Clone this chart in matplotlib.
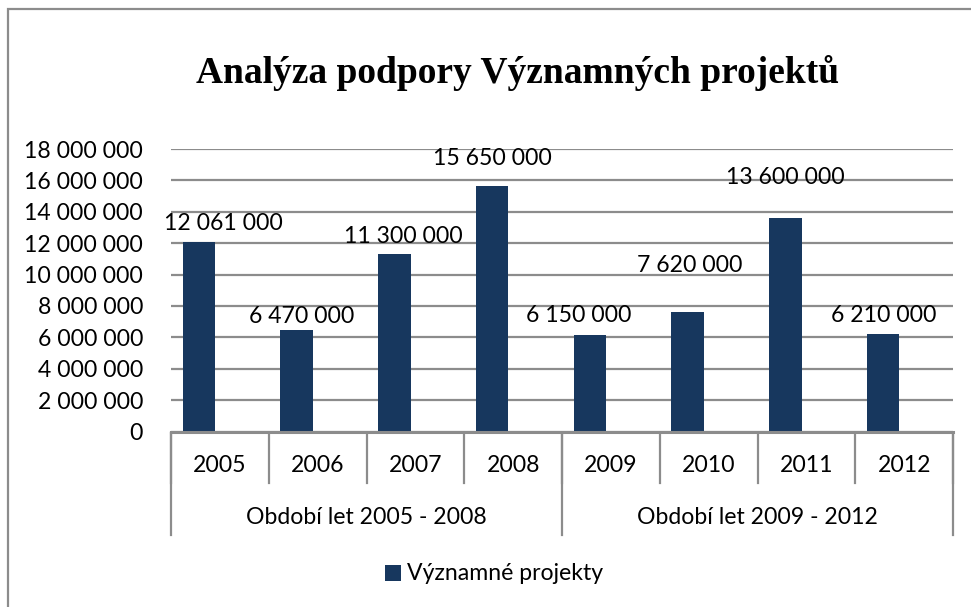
import matplotlib
matplotlib.use("Agg")
import matplotlib.pyplot as plt
from matplotlib.patches import Rectangle
from matplotlib.transforms import blended_transform_factory

years = ["2005", "2006", "2007", "2008", "2009", "2010", "2011", "2012"]
values = [12061000, 6470000, 11300000, 15650000, 6150000, 7620000, 13600000, 6210000]
value_labels = ["12 061 000", "6 470 000", "11 300 000", "15 650 000",
                "6 150 000", "7 620 000", "13 600 000", "6 210 000"]
groups = ["Období let 2005 - 2008", "Období let 2009 - 2012"]
group_sizes = [4, 4]
yticks = [0, 2000000, 4000000, 6000000, 8000000, 10000000, 12000000, 14000000, 16000000, 18000000]
ytick_labels = ["0", "2 000 000", "4 000 000", "6 000 000", "8 000 000", "10 000 000",
                "12 000 000", "14 000 000", "16 000 000", "18 000 000"]
title = "Analýza podpory Významných projektů"
series_name = "Významné projekty"

# style: manual label offsets in pixels (dx, dy upward) as in the reference
label_dx = [24, 5, 8.5, 0, -11, 2, 0, 0]
label_dy = [19, 14, 18, 27, 20, 46, 41, 19]

W, H, DPI = 971, 607, 100
PT = 72.0 / DPI
BAR = "#17375E"
GRID = "#8C8C8C"
FONT = "Lato"
FS = 23 * PT

fig = plt.figure(figsize=(W / DPI, H / DPI), dpi=DPI)
fig.patch.set_facecolor("white")

# outer border (only left/top visible)
fig.add_artist(Rectangle((7.5 / W, -0.05), 1.2, 1 - 9 / H + 0.05, transform=fig.transFigure,
                         fill=False, edgecolor="#8C8C8C", linewidth=1.6))

left, right, top, bottom = 171, 953, 149, 431.6
ax = fig.add_axes([left / W, 1 - bottom / H, (right - left) / W, (bottom - top) / H])
n = len(years)
x = list(range(n))
offset = -0.214
width = 0.333
xb = [i + offset for i in x]
ax.bar(xb, values, width=width, color=BAR, zorder=3)

ax.set_xlim(-0.5, n - 0.5)
ax.set_ylim(0, 18000000)
ax.set_yticks(yticks)
ax.set_yticklabels(ytick_labels, fontfamily=FONT, fontsize=FS)
ax.tick_params(axis="y", length=0, pad=28 * PT)
ax.yaxis.grid(True, color=GRID, linewidth=1.6)
ax.set_axisbelow(True)
for s in ["left", "right", "top"]:
    ax.spines[s].set_visible(False)
ax.spines["bottom"].set_color("#8C8C8C")
ax.spines["bottom"].set_linewidth(2.2)
ax.spines["bottom"].set_zorder(4)
ax.set_xticks([])

# data labels
for i in range(n):
    ax.annotate(value_labels[i], (xb[i], values[i]),
                xytext=(label_dx[i] * PT, label_dy[i] * PT), textcoords="offset points",
                ha="center", va="center", fontfamily=FONT, fontsize=FS, color="black",
                zorder=5)

# hierarchical category axis
tr = blended_transform_factory(ax.transData, ax.transAxes)
hpx = bottom - top
def ay(py):
    return (bottom - py) / hpx

for i in range(n):
    ax.text(i, ay(465), years[i], transform=tr, ha="center", va="center",
            fontfamily=FONT, fontsize=FS, color="black")
# year separators
for b in range(n + 1):
    ax.plot([b - 0.5, b - 0.5], [ay(433), ay(483)], transform=tr, color=GRID,
            linewidth=1.6, clip_on=False)
# group separators and labels
start = 0
ax.plot([-0.5, -0.5], [ay(433), ay(535)], transform=tr, color=GRID, linewidth=1.6, clip_on=False)
for g, size in zip(groups, group_sizes):
    end = start + size
    ax.plot([end - 0.5, end - 0.5], [ay(433), ay(535)], transform=tr, color=GRID,
            linewidth=1.6, clip_on=False)
    ax.text((start + end - 1) / 2, ay(518), g, transform=tr, ha="center", va="center",
            fontfamily=FONT, fontsize=FS, color="black")
    start = end

# title
fig.text(518 / W, 1 - 73 / H, title, ha="center", va="center",
         fontfamily="Liberation Serif", fontweight="bold", fontsize=27)

# legend
fig.add_artist(Rectangle((385 / W, 1 - 581 / H), 16 / W, 16 / H, transform=fig.transFigure,
                         facecolor=BAR, edgecolor="none"))
fig.text(407 / W, 1 - 573 / H, series_name, ha="left", va="center",
         fontfamily=FONT, fontsize=FS, color="black")

fig.savefig("out.png", dpi=DPI)
